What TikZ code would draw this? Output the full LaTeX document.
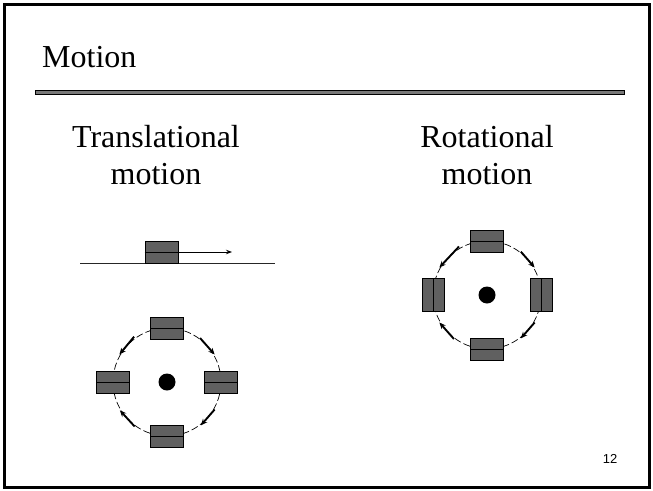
\documentclass[tikz,border=0pt]{standalone}
\usepackage{fontspec}
\setmainfont{Liberation Serif}
\newfontfamily\numfont{Liberation Sans}
\usetikzlibrary{calc,arrows.meta}
\definecolor{boxgray}{RGB}{96,96,96}
\definecolor{bargray}{RGB}{120,120,120}
\tikzset{
  heading/.style={inner sep=0pt, anchor=base, font=\fontsize{32}{38}\selectfont},
  hbox/.style={draw=black, line width=0.8pt, fill=boxgray, minimum width=33pt, minimum height=22pt, inner sep=0pt},
  vbox/.style={draw=black, line width=0.8pt, fill=boxgray, minimum width=22pt, minimum height=33pt, inner sep=0pt},
  divider/.style={draw=black, line width=0.8pt},
  orbit/.style={draw=black, line width=0.7pt, dash pattern=on 7pt off 3pt},
  hub/.style={circle, fill=black, minimum size=17pt, inner sep=0pt},
  turn/.style={draw=black, line width=1.9pt, -{Stealth[length=6.5pt,width=5.5pt]}},
}
\begin{document}
\begin{tikzpicture}[x=1pt,y=-1pt]
\useasboundingbox (0,0) rectangle (653,490);
% slide frame
\draw[line width=3pt] (4.5,4) rectangle (649.5,487);
% title and rule
\node[heading, anchor=base west] (title) at (42,67) {Motion};
\draw[draw=black, fill=bargray, line width=0.6pt] (35,90) rectangle (624,94);

% column headings
\node[heading] (tla) at (156,147) {Translational};
\node[heading] (tlb) at (156,184) {motion};
\node[heading] (rta) at (487,147) {Rotational};
\node[heading] (rtb) at (487,184) {motion};

% translation along a line
\draw[line width=0.9pt, draw=black!85] (80,263) -- (275,263);
\node[hbox] (slide) at (161.5,252) {};
\draw[divider] (slide.west) -- (slide.east);
\coordinate (slidetip) at (232,252);
\draw[line width=1pt, -{Stealth[length=6pt,width=4.5pt]}] (slide.east) -- (slidetip);

% translation around a circle (orientation kept)
\coordinate (c1) at (167,382);
\draw[orbit] (c1) circle[radius=54pt];
\node[hub] (hub1) at (c1) {};
\node[hbox] (t1) at ($(c1)+(90:54pt)$) {};
\node[hbox] (r1) at ($(c1)+(0:54pt)$) {};
\node[hbox] (b1) at ($(c1)+(270:54pt)$) {};
\node[hbox] (l1) at ($(c1)+(180:54pt)$) {};
\foreach \n in {t1,r1,b1,l1} \draw[divider] (\n.west) -- (\n.east);
\draw[turn] ($(c1)+(126:56pt)$) -- ($(c1)+(150:55pt)$);
\draw[turn] ($(c1)+(53:55pt)$) -- ($(c1)+(30:55pt)$);
\draw[turn] ($(c1)+(-30:55pt)$) -- ($(c1)+(-52:55pt)$);
\draw[turn] ($(c1)+(234:55pt)$) -- ($(c1)+(211:55pt)$);

% rotation about the centre (orientation turns)
\coordinate (c2) at (487,295);
\draw[orbit] (c2) circle[radius=54pt];
\node[hub] (hub2) at (c2) {};
\node[hbox] (t2) at ($(c2)+(90:54pt)$) {};
\node[vbox] (r2) at ($(c2)+(0:54pt)$) {};
\node[hbox] (b2) at ($(c2)+(270:54pt)$) {};
\node[vbox] (l2) at ($(c2)+(180:54pt)$) {};
\foreach \n in {t2,b2} \draw[divider] (\n.west) -- (\n.east);
\foreach \n in {r2,l2} \draw[divider] (\n.north) -- (\n.south);
\draw[turn] ($(c2)+(120:56pt)$) -- ($(c2)+(150:55pt)$);
\draw[turn] ($(c2)+(52:55pt)$) -- ($(c2)+(30:55pt)$);
\draw[turn] ($(c2)+(-30:55pt)$) -- ($(c2)+(-52:55pt)$);
\draw[turn] ($(c2)+(233:55pt)$) -- ($(c2)+(210:55pt)$);

% page number
\node[inner sep=0pt, anchor=base, font=\numfont\fontsize{13}{15}\selectfont] (pageno) at (610,463) {12};
\end{tikzpicture}
\end{document}
